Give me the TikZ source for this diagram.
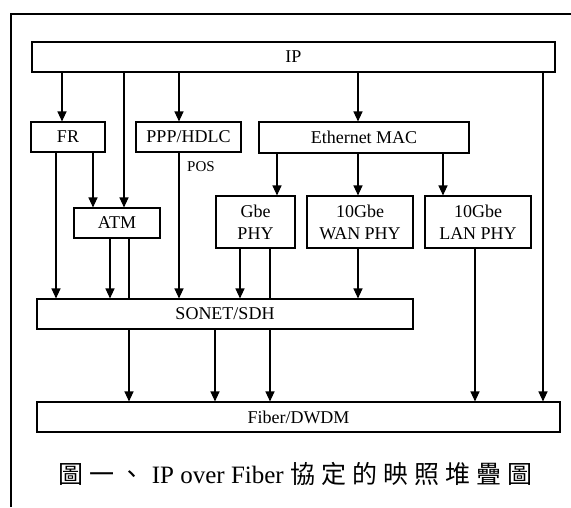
\documentclass[tikz,border=0pt]{standalone}
\usepackage{fontspec}
\setmainfont{Liberation Serif}
\newfontfamily\cjk{Noto Sans CJK TC}
\usetikzlibrary{arrows.meta}
\pgfdeclarelayer{bg}
\pgfsetlayers{bg,main}
\begin{document}
\begin{tikzpicture}[x=1pt,y=-1pt,
  box/.style={draw, line width=1.1pt, fill=white, inner sep=0pt,
    font=\fontsize{18}{22}\selectfont, align=center},
  arr/.style={line width=1.1pt, -{Triangle[length=10pt,width=9pt]}}]
\useasboundingbox (0,0) rectangle (571,507);
\draw[line width=1.4pt] (11,507) -- (11,14) -- (571,14);
% boxes
\node[box, minimum width=523pt, minimum height=30pt] (ip) at (293.5,57) {IP};
\node[box, minimum width=74pt, minimum height=30pt] (fr) at (68,137) {FR};
\node[box, minimum width=105pt, minimum height=30pt] (ppp) at (188.5,137) {PPP/HDLC};
\node[box, minimum width=210pt, minimum height=31pt] (eth) at (364,137.5) {Ethernet MAC};
\node[box, minimum width=86pt, minimum height=30pt] (atm) at (117,223) {ATM};
\node[box, minimum width=79pt, minimum height=52pt] (gbe) at (255.5,222) {Gbe\\PHY};
\node[box, minimum width=106pt, minimum height=52pt] (wan) at (360,222) {10Gbe\\WAN PHY};
\node[box, minimum width=106pt, minimum height=52pt] (lan) at (478,222) {10Gbe\\LAN PHY};
\node[box, minimum width=376pt, minimum height=30pt] (sonet) at (225,314) {SONET/SDH};
\node[box, minimum width=523pt, minimum height=30pt] (fiber) at (298.5,417) {Fiber/DWDM};
\node[font=\fontsize{15}{17}\selectfont] (pos) at (201,167) {POS};
\node (cap) at (295.5,474) {\fontsize{25}{30}\selectfont\cjk 圖\hspace{6pt}一\hspace{5pt}、\hspace{7pt}\rmfamily IP over Fiber \cjk 協\hspace{6pt}定\hspace{6pt}的\hspace{6pt}映\hspace{6pt}照\hspace{6pt}堆\hspace{6pt}疊\hspace{6pt}圖};
% connectors
\begin{pgfonlayer}{bg}
\draw[arr] (ip.south -| 62,0) -- (fr.north -| 62,0);
\draw[arr] (ip.south -| 124,0) -- (atm.north -| 124,0);
\draw[arr] (ip.south -| 179,0) -- (ppp.north -| 179,0);
\draw[arr] (ip.south -| 358,0) -- (eth.north -| 358,0);
\draw[arr] (ip.south -| 543,0) -- (fiber.north -| 543,0);
\draw[arr] (fr.south -| 93,0) -- (atm.north -| 93,0);
\draw[arr] (fr.south -| 56,0) -- (sonet.north -| 56,0);
\draw[arr] (atm.south -| 110,0) -- (sonet.north -| 110,0);
\draw[arr] (atm.south -| 129,0) -- (fiber.north -| 129,0);
\draw[arr] (ppp.south -| 179,0) -- (sonet.north -| 179,0);
\draw[arr] (eth.south -| 277,0) -- (gbe.north -| 277,0);
\draw[arr] (eth.south -| 358,0) -- (wan.north -| 358,0);
\draw[arr] (eth.south -| 443,0) -- (lan.north -| 443,0);
\draw[arr] (gbe.south -| 240,0) -- (sonet.north -| 240,0);
\draw[arr] (gbe.south -| 270,0) -- (fiber.north -| 270,0);
\draw[arr] (wan.south -| 358,0) -- (sonet.north -| 358,0);
\draw[arr] (lan.south -| 475,0) -- (fiber.north -| 475,0);
\draw[arr] (sonet.south -| 215,0) -- (fiber.north -| 215,0);
\end{pgfonlayer}
\end{tikzpicture}
\end{document}
